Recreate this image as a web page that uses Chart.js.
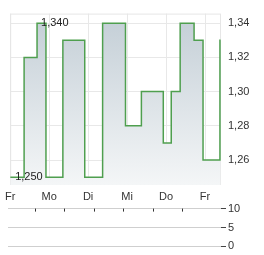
<!DOCTYPE html>
<html>
<head>
<meta charset="utf-8">
<script src="https://cdn.jsdelivr.net/npm/chart.js@4"></script>
<style>
html,body{margin:0;padding:0;background:#fff;}
#wrap{position:relative;width:264px;height:255px;}
#c1box{position:absolute;left:0;top:0;width:264px;height:205px;}
#c2box{position:absolute;left:0;top:200px;width:264px;height:55px;}
</style>
</head>
<body>
<div id="wrap">
<div id="c1box"><canvas id="price"></canvas></div>
<div id="c2box"><canvas id="volume"></canvas></div>
</div>
<script>
// day labels along the bottom
var days = ['Fr', 'Mo', 'Di', 'Mi', 'Do', 'Fr'];
var dayTicks = [0, 1, 2, 3, 4, 5];
// price steps (x in days from first Friday)
var times = [0, 0.357, 0.689, 0.918, 1.352, 1.913, 2.372, 2.959, 3.367, 3.929, 4.133, 4.362, 4.719, 4.949, 5.383, 5.40];
var prices = [1.25, 1.32, 1.34, 1.25, 1.33, 1.25, 1.34, 1.28, 1.30, 1.27, 1.30, 1.34, 1.33, 1.26, 1.33, 1.33];
var priceTicks = [1.26, 1.28, 1.30, 1.32, 1.34];
// volume, none traded
var volumes = [0, 0, 0, 0, 0, 0];
var volTicks = [0, 5, 10];

var xMax = 5.41;
var font = {family: 'Liberation Sans, Arial, sans-serif', size: 11};
Chart.defaults.font = font;
Chart.defaults.color = '#333';

function fmt(v) { return v.toFixed(2).replace('.', ','); }

var pts = [];
for (var i = 0; i < times.length; i++) pts.push({x: times[i], y: prices[i]});

var extras = {
  id: 'extras',
  beforeDatasetsDraw: function(c) {
    var a = c.chartArea, ctx = c.ctx;
    ctx.save();
    ctx.strokeStyle = '#e6e6e6';
    ctx.lineWidth = 1;
    ctx.strokeRect(a.left + 0.5, a.top + 0.5, a.right - a.left - 1, a.bottom - a.top - 1);
    ctx.restore();
  },
  afterDatasetsDraw: function(c) {
    var ctx = c.ctx, xs = c.scales.x, ys = c.scales.y;
    var hi = prices.indexOf(Math.max.apply(null, prices));
    var lo = prices.indexOf(Math.min.apply(null, prices));
    ctx.save();
    ctx.font = '11px Liberation Sans, Arial, sans-serif';
    ctx.fillStyle = '#222';
    ctx.textBaseline = 'middle';
    ctx.textAlign = 'left';
    ctx.fillText(prices[hi].toFixed(3).replace('.', ','), xs.getPixelForValue(times[hi]) + 4, ys.getPixelForValue(prices[hi]));
    ctx.fillText(prices[lo].toFixed(3).replace('.', ','), xs.getPixelForValue(times[lo]) + 5, ys.getPixelForValue(prices[lo]));
    ctx.restore();
  }
};

new Chart(document.getElementById('price'), {
  type: 'line',
  data: {
    datasets: [{
      data: pts,
      stepped: true,
      borderColor: '#4f9f4f',
      borderWidth: 1.5,
      pointRadius: 0,
      fill: 'start',
      backgroundColor: function(ctx) {
        var a = ctx.chart.chartArea;
        if (!a) return '#dde3e8';
        var g = ctx.chart.ctx.createLinearGradient(0, a.top, 0, a.bottom);
        g.addColorStop(0, '#c3ced6');
        g.addColorStop(1, '#f4f6f7');
        return g;
      }
    }]
  },
  options: {
    responsive: true,
    maintainAspectRatio: false,
    animation: false,
    layout: {padding: {left: 9, top: 7, right: 0, bottom: 0}},
    plugins: {legend: {display: false}, tooltip: {enabled: false}},
    scales: {
      x: {
        type: 'linear',
        min: 0,
        max: xMax,
        afterBuildTicks: function(s) { s.ticks = dayTicks.map(function(v) { return {value: v}; }); },
        afterFit: function(s) { s.height = 20; },
        grid: {color: '#e8e8e8', drawTicks: false},
        border: {display: false},
        ticks: {
          padding: 5,
          maxRotation: 0,
          autoSkip: false,
          callback: function(v) { return days[v]; }
        }
      },
      y: {
        position: 'right',
        min: 1.2454,
        max: 1.3456,
        afterBuildTicks: function(s) { s.ticks = priceTicks.map(function(v) { return {value: v}; }); },
        afterFit: function(s) { s.width = 43; },
        grid: {color: '#e8e8e8', drawTicks: false},
        border: {display: false},
        ticks: {padding: 7, callback: function(v) { return fmt(v); }}
      }
    }
  },
  plugins: [extras]
});

var dayMarks = {
  id: 'dayMarks',
  afterDraw: function(c) {
    var ctx = c.ctx, xs = c.scales.x, top = c.scales.y.getPixelForValue(volTicks[volTicks.length - 1]);
    ctx.save();
    ctx.strokeStyle = '#333';
    ctx.lineWidth = 1;
    dayTicks.forEach(function(d) {
      var px = Math.round(xs.getPixelForValue(d)) + 0.5;
      ctx.beginPath();
      ctx.moveTo(px, top);
      ctx.lineTo(px, top + 3);
      ctx.stroke();
    });
    ctx.restore();
  }
};

new Chart(document.getElementById('volume'), {
  type: 'bar',
  data: {
    datasets: [{
      data: volumes.map(function(v, i) { return {x: dayTicks[i], y: v}; }),
      backgroundColor: '#9bb'
    }]
  },
  options: {
    responsive: true,
    maintainAspectRatio: false,
    animation: false,
    layout: {padding: {left: 8, top: 7, right: 0, bottom: 8}},
    plugins: {legend: {display: false}, tooltip: {enabled: false}},
    scales: {
      x: {
        type: 'linear',
        min: 0,
        max: xMax,
        display: false
      },
      y: {
        position: 'right',
        min: 0,
        max: 10,
        afterBuildTicks: function(s) { s.ticks = volTicks.map(function(v) { return {value: v}; }); },
        afterFit: function(s) { s.width = 43; },
        grid: {color: '#cfcfcf', tickColor: '#444', tickLength: 5},
        border: {display: false},
        ticks: {padding: 2}
      }
    }
  },
  plugins: [dayMarks]
});
</script>
</body>
</html>
